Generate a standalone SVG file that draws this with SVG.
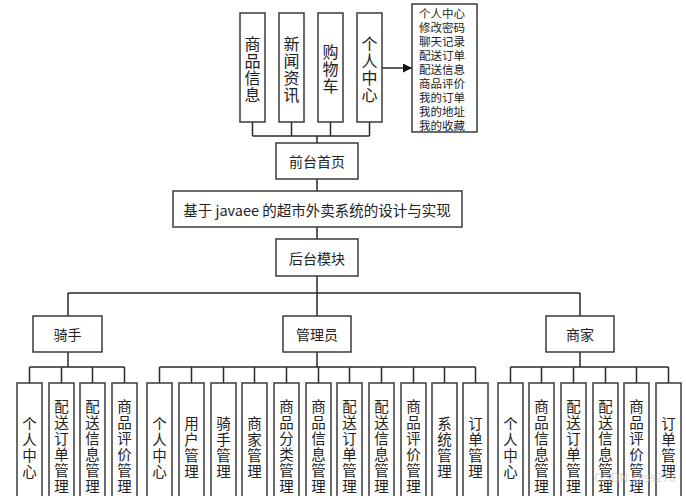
<svg xmlns="http://www.w3.org/2000/svg" width="686" height="496" viewBox="0 0 686 496">
<style>
.b{fill:#fff;stroke:#3a3a3a;stroke-width:1.5}
.c{fill:none;stroke:#2a2a2a;stroke-width:1.5}
text{font-family:"Noto Sans CJK SC","Microsoft YaHei",sans-serif;fill:#222}
.v{font-size:14.5px;text-anchor:middle;dominant-baseline:central}
.t{font-size:16px;text-anchor:middle;dominant-baseline:central}
.h{font-size:14px;text-anchor:middle;dominant-baseline:central}
.l{font-size:11.5px;dominant-baseline:central}
</style>
<defs>
<marker id="ar" viewBox="0 0 10 10" refX="10" refY="5" markerWidth="9" markerHeight="9" markerUnits="userSpaceOnUse" orient="auto">
<path d="M0,0 L10,5 L0,10 z" fill="#111"/>
</marker>
</defs>
<rect width="686" height="496" fill="#fff"/>
<g id="connectors">
<path class="c" d="M252.5,122V136M291.5,122V136M330.5,122V136M369.5,122V136M252.5,136H369.5M317,136V143"/>
<path class="c" d="M381,68H412" marker-end="url(#ar)"/>
<path class="c" d="M317,179V191M317,227V239M317,276V293M68,293H580M68,293V316M317,293V316M580,293V316"/>
<path class="c" d="M68,352V367M29.5,367H124.5M29.5,367V383M61.5,367V383M92.5,367V383M124.5,367V383"/>
<path class="c" d="M317,352V367M159.5,367H475.5M159.5,367V383M191.5,367V383M223.5,367V383M254.5,367V383M286.5,367V383M318.5,367V383M349.5,367V383M381.5,367V383M413.5,367V383M444.5,367V383M475.5,367V383"/>
<path class="c" d="M580,352V367M510.5,367H668.5M510.5,367V383M541.5,367V383M573.5,367V383M605.5,367V383M636.5,367V383M668.5,367V383"/>
</g>
<g id="n-spxx"><rect class="b" x="240" y="13" width="25" height="109"/><text class="t"><tspan x="252.5" y="43">商</tspan><tspan x="252.5" y="60">品</tspan><tspan x="252.5" y="77">信</tspan><tspan x="252.5" y="94">息</tspan></text></g>
<g id="n-xwzx"><rect class="b" x="279" y="13" width="25" height="109"/><text class="t"><tspan x="291.5" y="43">新</tspan><tspan x="291.5" y="60">闻</tspan><tspan x="291.5" y="77">资</tspan><tspan x="291.5" y="94">讯</tspan></text></g>
<g id="n-gwc"><rect class="b" x="318" y="13" width="25" height="109"/><text class="t"><tspan x="330.5" y="51">购</tspan><tspan x="330.5" y="68">物</tspan><tspan x="330.5" y="85">车</tspan></text></g>
<g id="n-grzx"><rect class="b" x="357" y="13" width="25" height="109"/><text class="t"><tspan x="369.5" y="43">个</tspan><tspan x="369.5" y="60">人</tspan><tspan x="369.5" y="77">中</tspan><tspan x="369.5" y="94">心</tspan></text></g>
<g id="n-list"><rect class="b" x="412" y="4" width="65" height="128"/><text class="l"><tspan x="419" y="13">个人中心</tspan><tspan x="419" y="27">修改密码</tspan><tspan x="419" y="41">聊天记录</tspan><tspan x="419" y="55">配送订单</tspan><tspan x="419" y="69">配送信息</tspan><tspan x="419" y="83">商品评价</tspan><tspan x="419" y="97">我的订单</tspan><tspan x="419" y="111">我的地址</tspan><tspan x="419" y="125">我的收藏</tspan></text></g>
<g id="n-qtsy"><rect class="b" x="276" y="143" width="82" height="36"/><text class="h" x="317" y="161">前台首页</text></g>
<g id="n-title"><rect class="b" x="173" y="191" width="289" height="36"/><text class="h" x="317" y="209" style="font-size:14.5px">基于 javaee 的超市外卖系统的设计与实现</text></g>
<g id="n-htmk"><rect class="b" x="276" y="239" width="82" height="37"/><text class="h" x="317" y="257.5">后台模块</text></g>
<g id="n-qs"><rect class="b" x="33" y="316" width="69" height="36"/><text class="h" x="67.5" y="334">骑手</text></g>
<g id="n-gly"><rect class="b" x="283" y="316" width="68" height="36"/><text class="h" x="317" y="334">管理员</text></g>
<g id="n-sj"><rect class="b" x="546" y="316" width="68" height="36"/><text class="h" x="580" y="334">商家</text></g>
<g id="r1"><rect class="b" x="17" y="383" width="25" height="130"/><text class="v"><tspan x="29.5" y="422">个</tspan><tspan x="29.5" y="438">人</tspan><tspan x="29.5" y="454">中</tspan><tspan x="29.5" y="470">心</tspan></text></g>
<g id="r2"><rect class="b" x="49" y="383" width="25" height="130"/><text class="v"><tspan x="61.5" y="405">配</tspan><tspan x="61.5" y="421">送</tspan><tspan x="61.5" y="437">订</tspan><tspan x="61.5" y="453">单</tspan><tspan x="61.5" y="469">管</tspan><tspan x="61.5" y="485">理</tspan></text></g>
<g id="r3"><rect class="b" x="80" y="383" width="25" height="130"/><text class="v"><tspan x="92.5" y="405">配</tspan><tspan x="92.5" y="421">送</tspan><tspan x="92.5" y="437">信</tspan><tspan x="92.5" y="453">息</tspan><tspan x="92.5" y="469">管</tspan><tspan x="92.5" y="485">理</tspan></text></g>
<g id="r4"><rect class="b" x="112" y="383" width="25" height="130"/><text class="v"><tspan x="124.5" y="405">商</tspan><tspan x="124.5" y="421">品</tspan><tspan x="124.5" y="437">评</tspan><tspan x="124.5" y="453">价</tspan><tspan x="124.5" y="469">管</tspan><tspan x="124.5" y="485">理</tspan></text></g>
<g id="a1"><rect class="b" x="147" y="383" width="25" height="130"/><text class="v"><tspan x="159.5" y="422">个</tspan><tspan x="159.5" y="438">人</tspan><tspan x="159.5" y="454">中</tspan><tspan x="159.5" y="470">心</tspan></text></g>
<g id="a2"><rect class="b" x="179" y="383" width="25" height="130"/><text class="v"><tspan x="191.5" y="422">用</tspan><tspan x="191.5" y="438">户</tspan><tspan x="191.5" y="454">管</tspan><tspan x="191.5" y="470">理</tspan></text></g>
<g id="a3"><rect class="b" x="211" y="383" width="25" height="130"/><text class="v"><tspan x="223.5" y="422">骑</tspan><tspan x="223.5" y="438">手</tspan><tspan x="223.5" y="454">管</tspan><tspan x="223.5" y="470">理</tspan></text></g>
<g id="a4"><rect class="b" x="242" y="383" width="25" height="130"/><text class="v"><tspan x="254.5" y="422">商</tspan><tspan x="254.5" y="438">家</tspan><tspan x="254.5" y="454">管</tspan><tspan x="254.5" y="470">理</tspan></text></g>
<g id="a5"><rect class="b" x="274" y="383" width="25" height="130"/><text class="v"><tspan x="286.5" y="405">商</tspan><tspan x="286.5" y="421">品</tspan><tspan x="286.5" y="437">分</tspan><tspan x="286.5" y="453">类</tspan><tspan x="286.5" y="469">管</tspan><tspan x="286.5" y="485">理</tspan></text></g>
<g id="a6"><rect class="b" x="306" y="383" width="25" height="130"/><text class="v"><tspan x="318.5" y="405">商</tspan><tspan x="318.5" y="421">品</tspan><tspan x="318.5" y="437">信</tspan><tspan x="318.5" y="453">息</tspan><tspan x="318.5" y="469">管</tspan><tspan x="318.5" y="485">理</tspan></text></g>
<g id="a7"><rect class="b" x="337" y="383" width="25" height="130"/><text class="v"><tspan x="349.5" y="405">配</tspan><tspan x="349.5" y="421">送</tspan><tspan x="349.5" y="437">订</tspan><tspan x="349.5" y="453">单</tspan><tspan x="349.5" y="469">管</tspan><tspan x="349.5" y="485">理</tspan></text></g>
<g id="a8"><rect class="b" x="369" y="383" width="25" height="130"/><text class="v"><tspan x="381.5" y="405">配</tspan><tspan x="381.5" y="421">送</tspan><tspan x="381.5" y="437">信</tspan><tspan x="381.5" y="453">息</tspan><tspan x="381.5" y="469">管</tspan><tspan x="381.5" y="485">理</tspan></text></g>
<g id="a9"><rect class="b" x="401" y="383" width="25" height="130"/><text class="v"><tspan x="413.5" y="405">商</tspan><tspan x="413.5" y="421">品</tspan><tspan x="413.5" y="437">评</tspan><tspan x="413.5" y="453">价</tspan><tspan x="413.5" y="469">管</tspan><tspan x="413.5" y="485">理</tspan></text></g>
<g id="a10"><rect class="b" x="432" y="383" width="25" height="130"/><text class="v"><tspan x="444.5" y="422">系</tspan><tspan x="444.5" y="438">统</tspan><tspan x="444.5" y="454">管</tspan><tspan x="444.5" y="470">理</tspan></text></g>
<g id="a11"><rect class="b" x="463" y="383" width="25" height="130"/><text class="v"><tspan x="475.5" y="422">订</tspan><tspan x="475.5" y="438">单</tspan><tspan x="475.5" y="454">管</tspan><tspan x="475.5" y="470">理</tspan></text></g>
<g id="m1"><rect class="b" x="498" y="383" width="25" height="130"/><text class="v"><tspan x="510.5" y="422">个</tspan><tspan x="510.5" y="438">人</tspan><tspan x="510.5" y="454">中</tspan><tspan x="510.5" y="470">心</tspan></text></g>
<g id="m2"><rect class="b" x="529" y="383" width="25" height="130"/><text class="v"><tspan x="541.5" y="405">商</tspan><tspan x="541.5" y="421">品</tspan><tspan x="541.5" y="437">信</tspan><tspan x="541.5" y="453">息</tspan><tspan x="541.5" y="469">管</tspan><tspan x="541.5" y="485">理</tspan></text></g>
<g id="m3"><rect class="b" x="561" y="383" width="25" height="130"/><text class="v"><tspan x="573.5" y="405">配</tspan><tspan x="573.5" y="421">送</tspan><tspan x="573.5" y="437">订</tspan><tspan x="573.5" y="453">单</tspan><tspan x="573.5" y="469">管</tspan><tspan x="573.5" y="485">理</tspan></text></g>
<g id="m4"><rect class="b" x="593" y="383" width="25" height="130"/><text class="v"><tspan x="605.5" y="405">配</tspan><tspan x="605.5" y="421">送</tspan><tspan x="605.5" y="437">信</tspan><tspan x="605.5" y="453">息</tspan><tspan x="605.5" y="469">管</tspan><tspan x="605.5" y="485">理</tspan></text></g>
<g id="m5"><rect class="b" x="624" y="383" width="25" height="130"/><text class="v"><tspan x="636.5" y="405">商</tspan><tspan x="636.5" y="421">品</tspan><tspan x="636.5" y="437">评</tspan><tspan x="636.5" y="453">价</tspan><tspan x="636.5" y="469">管</tspan><tspan x="636.5" y="485">理</tspan></text></g>
<g id="m6"><rect class="b" x="656" y="383" width="25" height="130"/><text class="v"><tspan x="668.5" y="422">订</tspan><tspan x="668.5" y="438">单</tspan><tspan x="668.5" y="454">管</tspan><tspan x="668.5" y="470">理</tspan></text></g>
<text x="635" y="482" style="font-family:'Liberation Sans',sans-serif;font-size:12px;fill:#c8c8c8;opacity:0.7;text-anchor:middle">CSDN @ss273</text>
</svg>
